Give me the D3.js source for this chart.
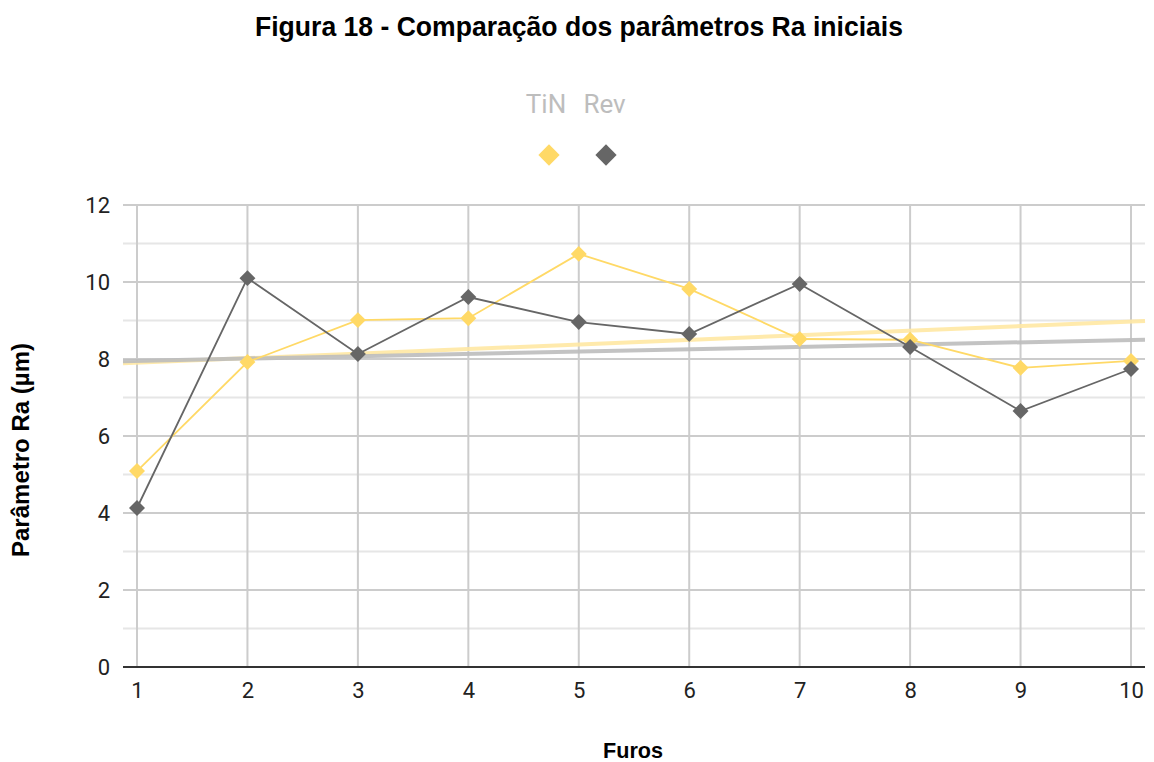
<!DOCTYPE html>
<html><head><meta charset="utf-8">
<script src="https://cdn.jsdelivr.net/npm/d3@7"></script>
<style>body{margin:0;background:#fff}</style>
</head><body>
<svg id="c" width="1154" height="762"></svg>
<script>
const furos = [1,2,3,4,5,6,7,8,9,10];
const tin = [5.09,7.92,9.01,9.06,10.73,9.82,8.52,8.5,7.77,7.95];
const rev = [4.13,10.1,8.13,9.61,8.96,8.65,9.95,8.31,6.65,7.74];
const yTicks = [0,2,4,6,8,10,12];
const seriesNames = ["TiN","Rev"];
const colors = ["#ffd966","#666666"];
const trendColors = ["#ffe8a3","#bdbdbd"];

const svg = d3.select("#c");
const x = d3.scaleLinear().domain([1,10]).range([137,1131]);
const y = d3.scaleLinear().domain([0,12]).range([667,205]);
const gridL = 123, gridR = 1145;

// title
svg.append("text").attr("x",255).attr("y",36)
  .attr("font-family","Liberation Sans, Arial").attr("font-weight","bold").attr("font-size",27)
  .attr("textLength",648).attr("lengthAdjust","spacingAndGlyphs")
  .attr("fill","#000").text("Figura 18 - Comparação dos parâmetros Ra iniciais");

// grid horizontal
const hg = d3.range(1,13,1);
svg.append("g").selectAll("line").data(hg).join("line")
  .attr("x1",gridL).attr("x2",gridR).attr("y1",d=>y(d)).attr("y2",d=>y(d))
  .attr("stroke",d=>d%2===0?"#cccccc":"#e6e6e6").attr("stroke-width",2);
// grid vertical
svg.append("g").selectAll("line").data(furos).join("line")
  .attr("x1",d=>x(d)).attr("x2",d=>x(d)).attr("y1",y(12)).attr("y2",y(0))
  .attr("stroke","#cccccc").attr("stroke-width",2);

// trendlines
function reg(vals){
  const mx=d3.mean(furos), my=d3.mean(vals);
  let num=0,den=0; furos.forEach((f,i)=>{num+=(f-mx)*(vals[i]-my);den+=(f-mx)*(f-mx);});
  const b=num/den; return t=>my+b*(t-mx);
}
[tin,rev].forEach((vals,i)=>{
  const f=reg(vals); const a=x.invert(gridL), b=x.invert(gridR);
  svg.append("line").attr("x1",x(a)).attr("x2",x(b)).attr("y1",y(f(a))).attr("y2",y(f(b)))
    .attr("stroke",trendColors[i]).attr("stroke-width",4).attr("stroke-opacity",0.9);
});

// axis baseline
svg.append("line").attr("x1",gridL).attr("x2",gridR).attr("y1",y(0)).attr("y2",y(0))
  .attr("stroke","#333").attr("stroke-width",2);

// axes via d3
const yAx = svg.append("g").attr("transform",`translate(${gridL},0)`)
  .call(d3.axisLeft(y).tickValues(yTicks).tickSize(0).tickPadding(13));
yAx.select(".domain").remove();
yAx.selectAll("text").attr("font-family","Roboto").attr("font-size",22).attr("fill","#222").attr("dy","0.36em");
const xAx = svg.append("g").attr("transform",`translate(0,${y(0)})`)
  .call(d3.axisBottom(x).tickValues(furos).tickFormat(d3.format("d")).tickSize(0));
xAx.select(".domain").remove();
xAx.selectAll("text").attr("font-family","Roboto").attr("font-size",22).attr("fill","#222")
  .attr("y",31).attr("dy",0);

// series
const diamond = d3.symbol().type(d3.symbolDiamond2).size(162);
[tin,rev].forEach((vals,i)=>{
  const line=d3.line().x((d,j)=>x(furos[j])).y(d=>y(d));
  svg.append("path").attr("d",line(vals)).attr("fill","none").attr("stroke",colors[i]).attr("stroke-width",1.8);
  svg.append("g").selectAll("path").data(vals).join("path")
    .attr("transform",(d,j)=>`translate(${x(furos[j])},${y(d)})`)
    .attr("d",diamond).attr("fill",colors[i]);
});

// legend
const legTextX=[546,604.5];
const legX=[549,606];
seriesNames.forEach((s,i)=>{
  svg.append("text").attr("x",legTextX[i]).attr("y",113).attr("text-anchor","middle")
    .attr("font-family","Roboto").attr("font-size",26).attr("fill","#bdbdbd").text(s);
  svg.append("path").attr("transform",`translate(${legX[i]},155)`)
    .attr("d",d3.symbol().type(d3.symbolDiamond2).size(288)).attr("fill",colors[i]);
});

// axis titles
svg.append("text").attr("transform","translate(29,450) rotate(-90)").attr("text-anchor","middle")
  .attr("font-family","Liberation Sans, Arial").attr("font-weight","bold").attr("font-size",23)
  .attr("textLength",214).attr("lengthAdjust","spacingAndGlyphs")
  .attr("fill","#000").text("Parâmetro Ra (µm)");
svg.append("text").attr("x",633).attr("y",758).attr("text-anchor","middle")
  .attr("font-family","Liberation Sans, Arial").attr("font-weight","bold").attr("font-size",22)
  .attr("textLength",60).attr("lengthAdjust","spacingAndGlyphs")
  .attr("fill","#000").text("Furos");
</script>
</body></html>
